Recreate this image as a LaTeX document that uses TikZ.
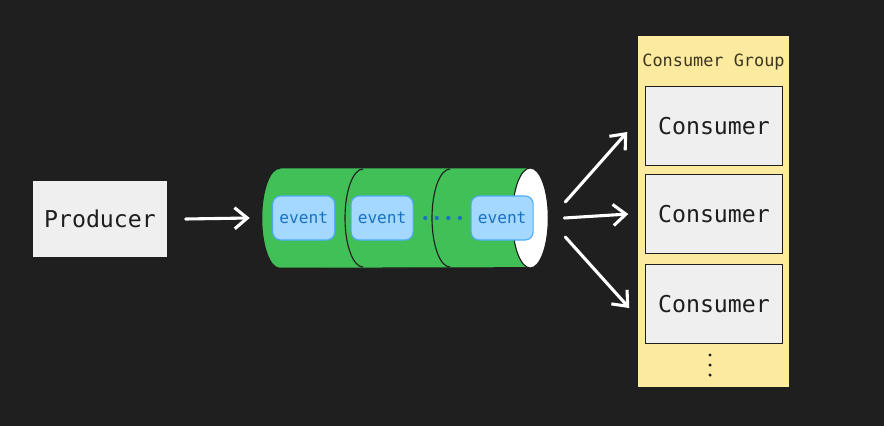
\documentclass[tikz,border=0pt]{standalone}
\usepackage{fontspec}
\usepackage{tikz}
\usetikzlibrary{
    positioning,
    arrows.meta
}
\newfontfamily\monofont{DejaVu Sans Mono}
\definecolor{bgdark}{HTML}{1F1F1F}
\definecolor{ink}{HTML}{1E1E1E}
\definecolor{boxgray}{HTML}{EFEFEF}
\definecolor{qgreen}{HTML}{40C057}
\definecolor{evfill}{HTML}{A5D8FF}
\definecolor{evline}{HTML}{4DABF7}
\definecolor{evtext}{HTML}{1971C2}
\definecolor{grpyellow}{HTML}{FCEA9E}
\definecolor{grptext}{HTML}{3D3520}
\tikzset{
    >={Straight Barb[length=9pt,width=15pt]},
    box/.style={
        draw=ink, fill=boxgray, line width=1pt,
        minimum width=3.4cm, minimum height=1.95cm,
        text=ink, font=\monofont\fontsize{16.5}{18}\selectfont
    },
    event/.style={
        draw=evline, fill=evfill, line width=0.8pt, rounded corners=0.2cm,
        minimum width=1.55cm, minimum height=1.1cm,
        text=evtext, font=\monofont\fontsize{11.5}{13}\selectfont
    },
    queue/.style={
        inner sep=0pt, minimum width=7.15cm, minimum height=2.5cm
    },
    segment/.style={draw=ink, line width=0.8pt},
    group/.style={
        draw=ink, fill=grpyellow, line width=1pt,
        minimum width=3.825cm, minimum height=8.825cm
    },
    flow/.style={->, draw=white, line width=2.2pt, line cap=round}
}

\begin{document}
\begin{tikzpicture}[
    x=0.025cm,
    y=-0.025cm,
    on grid
]

    % Fondo
    \fill[bgdark] (0,0) rectangle (884,426);

    % Productor
    \node[box] (prod) at (100,219) {Producer};

    % Cola de eventos
    \node[queue] (queue) at (405,218) {};
    \filldraw[fill=qgreen, segment]
        ([xshift=0.45cm]queue.north west) -- ([xshift=-0.45cm]queue.north east)
        arc[start angle=90, end angle=-90, x radius=0.45cm, y radius=1.25cm]
        -- ([xshift=0.45cm]queue.south west)
        arc[start angle=270, end angle=90, x radius=0.45cm, y radius=1.25cm] -- cycle;
    \filldraw[fill=white, segment] ([xshift=-0.45cm]queue.east) ellipse[x radius=0.45cm, y radius=1.25cm];
    \draw[segment] (363,169) arc[start angle=90, end angle=270, x radius=0.45cm, y radius=1.225cm];
    \draw[segment] (450,169) arc[start angle=90, end angle=270, x radius=0.45cm, y radius=1.225cm];
    \node[event] (e1) at ([xshift=1.05cm]queue.west) {event};
    \node[event] (e2) [right=1.96cm of e1] {event};
    \node[event] (e3) [right=3cm of e2] {event};
    \draw[evtext, line width=3pt, line cap=round, dash pattern=on 0pt off 8.2pt]
        ([xshift=0.29cm]e2.east) -- ([xshift=-0.25cm]e3.west);

    % Grupo de consumidores
    \node[group] (grp) at (713.5,211.5) {};
    \node[text=grptext, font=\monofont\fontsize{12}{14}\selectfont] (title) at ([yshift=-0.7cm]grp.north) {Consumer Group};
    \node[box, minimum width=3.425cm, minimum height=1.975cm] (c1) at (714,126) {Consumer};
    \node[box, minimum width=3.425cm, minimum height=1.975cm] (c2) [below=2.2cm of c1] {Consumer};
    \node[box, minimum width=3.425cm, minimum height=1.975cm] (c3) [below=2.25cm of c2] {Consumer};
    \foreach \d in {1.275,1.525,1.775}
        \fill[ink] ([xshift=-0.1cm,yshift=-\d cm]c3.center) circle (1.2pt);

    % Flechas
    \draw[flow] ([xshift=0.425cm]prod.east) -- ([xshift=-0.3cm]queue.west);
    \draw[flow] ([xshift=0.425cm,yshift=0.4cm]queue.east) -- ([xshift=-0.225cm,yshift=-0.15cm]grp.west |- c1);
    \draw[flow] ([xshift=0.4cm]queue.east) -- ([xshift=-0.2cm]grp.west |- c2);
    \draw[flow] ([xshift=0.425cm,yshift=-0.475cm]queue.east) -- ([xshift=-0.175cm,yshift=-0.1cm]grp.west |- c3);

\end{tikzpicture}
\end{document}
